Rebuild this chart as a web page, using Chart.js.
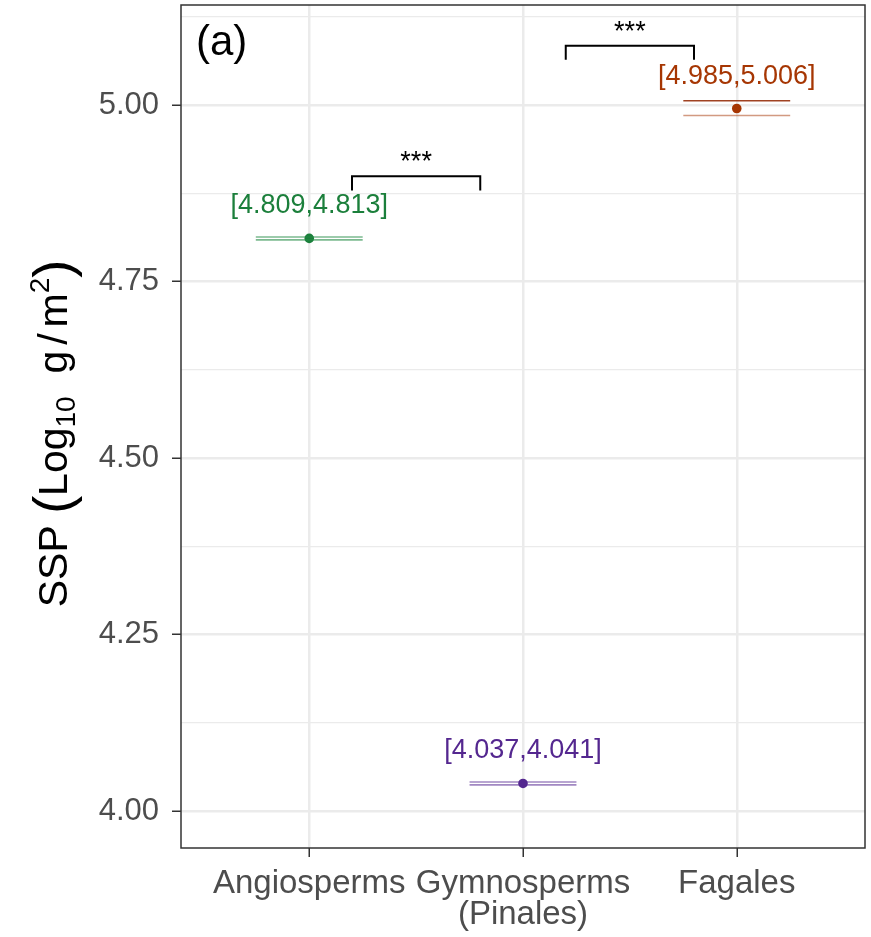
<!DOCTYPE html>
<html>
<head>
<meta charset="utf-8">
<script src="https://cdn.jsdelivr.net/npm/chart.js@4"></script>
<style>
  body { margin: 0; background: #fff; }
  #wrap { width: 871px; height: 937px; }
</style>
</head>
<body>
<div id="wrap"><canvas id="sspChart"></canvas></div>
<script>
// data
const groups = ['Angiosperms', ['Gymnosperms', '(Pinales)'], 'Fagales'];
const groupPos = [1, 2, 3];
const means = [4.811, 4.039, 4.995];
const ciLow = [4.809, 4.037, 4.985];
const ciHigh = [4.813, 4.041, 5.006];
const ciText = ['[4.809,4.813]', '[4.037,4.041]', '[4.985,5.006]'];
const groupColors = ['#1b7f3b', '#54278f', '#a63603'];
const lineColors = ['rgba(35,139,69,0.6)', 'rgba(84,39,143,0.55)', 'rgba(166,54,3,0.5)'];
const highLineColors = ['rgba(35,139,69,0.6)', 'rgba(84,39,143,0.55)', 'rgba(150,45,10,0.9)'];

// significance brackets
const bracketFrom = [1.2, 2.2];
const bracketTo = [1.8, 2.8];
const bracketTop = [4.899, 5.084];
const bracketTip = [4.879, 5.064];
const bracketLabel = ['***', '***'];

const yMajor = [4.00, 4.25, 4.50, 4.75, 5.00];
const yMinor = [4.125, 4.375, 4.625, 4.875, 5.125];

const FONT = '"Liberation Sans", Arial, Helvetica, sans-serif';
const halfWidth = 0.25;

const datasets = [];
groupPos.forEach((x, i) => {
    datasets.push({
        type: 'scatter', showLine: true, pointRadius: 0, borderWidth: 1.6,
        borderColor: lineColors[i],
        data: [{ x: x - halfWidth, y: ciLow[i] }, { x: x + halfWidth, y: ciLow[i] }]
    });
    datasets.push({
        type: 'scatter', showLine: true, pointRadius: 0, borderWidth: 1.6,
        borderColor: highLineColors[i],
        data: [{ x: x - halfWidth, y: ciHigh[i] }, { x: x + halfWidth, y: ciHigh[i] }]
    });
});
datasets.push({
    type: 'scatter', pointRadius: 4.8, pointHoverRadius: 4.8,
    backgroundColor: groupColors, borderColor: groupColors, borderWidth: 0,
    data: groupPos.map((x, i) => ({ x: x, y: means[i] }))
});
bracketFrom.forEach((x1, i) => {
    datasets.push({
        type: 'scatter', showLine: true, pointRadius: 0, borderWidth: 2,
        borderColor: '#000', tension: 0,
        data: [
            { x: x1, y: bracketTip[i] }, { x: x1, y: bracketTop[i] },
            { x: bracketTo[i], y: bracketTop[i] }, { x: bracketTo[i], y: bracketTip[i] }
        ]
    });
});

const annotations = {
    id: 'annotations',
    afterDatasetsDraw(chart) {
        const { ctx, scales: { x, y } } = chart;
        ctx.save();
        ctx.textAlign = 'center';
        ctx.textBaseline = 'alphabetic';
        ctx.font = '27px ' + FONT;
        groupPos.forEach((g, i) => {
            ctx.fillStyle = groupColors[i];
            ctx.fillText(ciText[i], x.getPixelForValue(g), y.getPixelForValue(means[i]) - 25);
        });
        ctx.fillStyle = '#000';
        bracketFrom.forEach((x1, i) => {
            const cx = (x.getPixelForValue(x1) + x.getPixelForValue(bracketTo[i])) / 2;
            ctx.fillText(bracketLabel[i], cx, y.getPixelForValue(bracketTop[i]) - 6);
        });
        // panel tag
        ctx.textAlign = 'left';
        ctx.font = '42px ' + FONT;
        ctx.fillText('(a)', chart.chartArea.left + 15, 55);
        ctx.restore();
    },
    afterDraw(chart) {
        const { ctx, chartArea: a } = chart;
        ctx.save();
        ctx.strokeStyle = '#333333';
        ctx.lineWidth = 1.5;
        ctx.strokeRect(a.left, a.top, a.right - a.left, a.bottom - a.top);

        // y axis title with sub/superscript
        const mid = (a.top + a.bottom) / 2 + 7;
        ctx.translate(67, mid);
        ctx.rotate(-Math.PI / 2);
        ctx.fillStyle = '#000';
        ctx.textBaseline = 'alphabetic';
        ctx.textAlign = 'left';
        const big = '41px ' + FONT, small = '28px ' + FONT, paren = '54px ' + FONT;
        const parts = [
            { t: 'SSP ', f: big, dy: 0 },
            { t: '(', f: paren, dy: 4 },
            { t: 'Log', f: big, dy: 0 },
            { t: '10', f: small, dy: 8 },
            { t: '  g', f: big, dy: 0 },
            { t: ' / ', f: small, dy: 0 },
            { t: 'm', f: big, dy: 0 },
            { t: '2', f: small, dy: -18 },
            { t: ')', f: paren, dy: 4 }
        ];
        let total = 0;
        parts.forEach(p => { ctx.font = p.f; p.w = ctx.measureText(p.t).width; total += p.w; });
        let cx = -total / 2;
        parts.forEach(p => {
            ctx.font = p.t === ' / ' ? big : p.f;
            if (p.t === ' / ') {
                const sw = ctx.measureText('/').width;
                ctx.fillText('/', cx + (p.w - sw) / 2, 0);
            } else {
                ctx.fillText(p.t, cx, p.dy);
            }
            cx += p.w;
        });
        ctx.restore();
    }
};

new Chart(document.getElementById('sspChart'), {
    type: 'scatter',
    data: { datasets: datasets },
    options: {
        responsive: true,
        maintainAspectRatio: false,
        animation: false,
        layout: { padding: { top: 5, right: 6, left: 0, bottom: 0 } },
        plugins: { legend: { display: false }, tooltip: { enabled: false } },
        scales: {
            x: {
                type: 'linear', min: 0.4, max: 3.6,
                afterBuildTicks: s => { s.ticks = groupPos.map(v => ({ value: v })); },
                afterFit: s => { s.height = 89; s.paddingLeft = 0; s.paddingRight = 0; },
                border: { display: false },
                grid: { color: '#ebebeb', lineWidth: 2.5, tickLength: 9, tickColor: '#333333', tickWidth: 1.5 },
                ticks: {
                    padding: 11, color: '#4d4d4d', maxRotation: 0, autoSkip: false,
                    font: { family: FONT, size: 33, lineHeight: 0.95 },
                    callback: v => groups[groupPos.indexOf(v)]
                }
            },
            y: {
                type: 'linear', min: 3.9476, max: 5.1416,
                afterBuildTicks: s => {
                    s.ticks = yMajor.concat(yMinor).sort((a, b) => a - b).map(v => ({ value: v }));
                },
                afterFit: s => { s.width = 181; s.paddingTop = 0; s.paddingBottom = 0; },
                border: { display: false },
                grid: {
                    color: '#ebebeb',
                    lineWidth: c => yMajor.includes(c.tick.value) ? 2.5 : 1.3,
                    tickLength: 9,
                    tickColor: c => yMajor.includes(c.tick.value) ? '#333333' : 'rgba(0,0,0,0)',
                    tickWidth: 1.5
                },
                ticks: {
                    padding: 13, color: '#4d4d4d', autoSkip: false,
                    font: { family: FONT, size: 31 },
                    callback: v => yMajor.includes(v) ? v.toFixed(2) : ''
                }
            }
        }
    },
    plugins: [annotations]
});
</script>
</body>
</html>
